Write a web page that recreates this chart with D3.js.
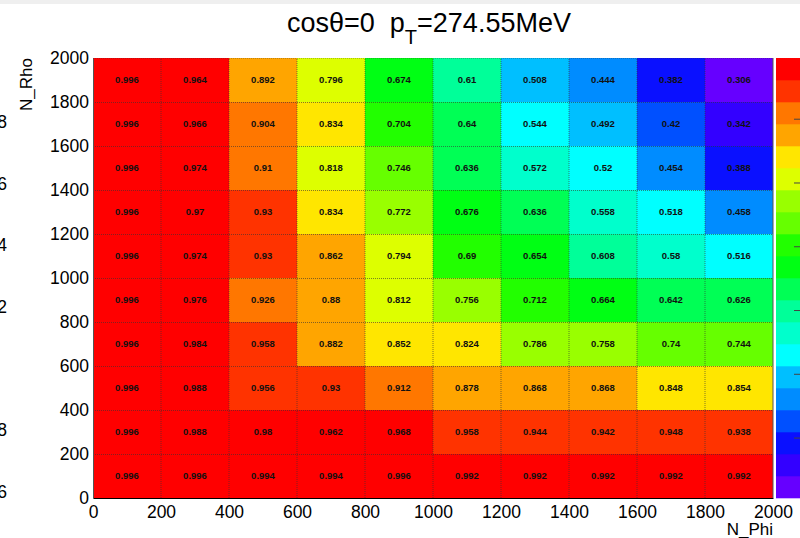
<!DOCTYPE html>
<html>
<head>
<meta charset="utf-8">
<script src="https://cdn.jsdelivr.net/npm/d3@7"></script>
<style>
  body { margin: 0; background: #fff; }
  svg { display: block; font-family: "Liberation Sans", Arial, Helvetica, sans-serif; }
</style>
</head>
<body>
<div id="chart"></div>
<script>
// bin lower edges
const phiBins = [0, 200, 400, 600, 800, 1000, 1200, 1400, 1600, 1800];
const rhoBins = [1800, 1600, 1400, 1200, 1000, 800, 600, 400, 200, 0];
const binWidth = 200;

// efficiency per cell, rows follow rhoBins (top to bottom), columns follow phiBins
const effValues = [
  [0.996, 0.964, 0.892, 0.796, 0.674, 0.61, 0.508, 0.444, 0.382, 0.306],
  [0.996, 0.966, 0.904, 0.834, 0.704, 0.64, 0.544, 0.492, 0.42, 0.342],
  [0.996, 0.974, 0.91, 0.818, 0.746, 0.636, 0.572, 0.52, 0.454, 0.388],
  [0.996, 0.97, 0.93, 0.834, 0.772, 0.676, 0.636, 0.558, 0.518, 0.458],
  [0.996, 0.974, 0.93, 0.862, 0.794, 0.69, 0.654, 0.608, 0.58, 0.516],
  [0.996, 0.976, 0.926, 0.88, 0.812, 0.756, 0.712, 0.664, 0.642, 0.626],
  [0.996, 0.984, 0.958, 0.882, 0.852, 0.824, 0.786, 0.758, 0.74, 0.744],
  [0.996, 0.988, 0.956, 0.93, 0.912, 0.878, 0.868, 0.868, 0.848, 0.854],
  [0.996, 0.988, 0.98, 0.962, 0.968, 0.958, 0.944, 0.942, 0.948, 0.938],
  [0.996, 0.996, 0.994, 0.994, 0.996, 0.992, 0.992, 0.992, 0.992, 0.992]
];

const xTicks = [0, 200, 400, 600, 800, 1000, 1200, 1400, 1600, 1800, 2000];
const yTicks = [0, 200, 400, 600, 800, 1000, 1200, 1400, 1600, 1800, 2000];

// rainbow palette, 20 contour levels, lowest first
const palette = [
  '#6600ff', '#3300ff', '#0a10ff', '#0050ff', '#008cff',
  '#00bfff', '#00ffff', '#00ffcc', '#00ff99', '#00ff55',
  '#00ff14', '#22ff00', '#66ff00', '#99ff00', '#ddff00',
  '#ffe600', '#ffa500', '#ff7700', '#ff3300', '#ff0000'
];

// labels of the neighbouring pad, cut off at the left edge
const sideTicks = [1.8, 1.6, 1.4, 1.2, 0.8, 0.6];

const width = 800;
const height = 538;
const margin = { top: 58, right: 27, bottom: 40, left: 93 };

const svg = d3.select('#chart')
  .append('svg')
  .attr('width', width)
  .attr('height', height);

// light strip at the very top
svg.append('rect')
  .attr('x', 0).attr('y', 0)
  .attr('width', width).attr('height', 4)
  .attr('fill', '#efefef');

const x = d3.scaleLinear().domain([0, 2000]).range([margin.left, width - margin.right]);
const y = d3.scaleLinear().domain([0, 2000]).range([height - margin.bottom, margin.top]);

const flat = effValues.flat();
const zMin = d3.min(flat);
const zMax = d3.max(flat);
const color = d3.scaleQuantize()
  .domain([zMin - 1e-6, zMax])
  .range(palette);

const cells = [];
effValues.forEach((row, i) => {
  row.forEach((v, j) => {
    cells.push({ phi: phiBins[j], rho: rhoBins[i], v: v });
  });
});

// cells
svg.selectAll('.cell')
  .data(cells)
  .enter()
  .append('rect')
  .attr('class', 'cell')
  .attr('x', d => x(d.phi))
  .attr('y', d => y(d.rho + binWidth))
  .attr('width', d => x(d.phi + binWidth) - x(d.phi))
  .attr('height', d => y(d.rho) - y(d.rho + binWidth))
  .attr('fill', d => color(d.v));

// dotted bin boundaries
const edges = xTicks.slice(1, -1);
svg.selectAll('.vgrid')
  .data(edges)
  .enter()
  .append('line')
  .attr('x1', d => x(d)).attr('x2', d => x(d))
  .attr('y1', y(0)).attr('y2', y(2000))
  .attr('stroke', '#333').attr('stroke-opacity', 0.6)
  .attr('stroke-dasharray', '1,1');

svg.selectAll('.hgrid')
  .data(yTicks.slice(1))
  .enter()
  .append('line')
  .attr('x1', x(0)).attr('x2', x(2000))
  .attr('y1', d => y(d) + 0.5).attr('y2', d => y(d) + 0.5)
  .attr('stroke', '#333').attr('stroke-opacity', d => d === 2000 ? 0.3 : 0.6)
  .attr('stroke-dasharray', '1,1');

// cell labels
svg.selectAll('.label')
  .data(cells)
  .enter()
  .append('text')
  .attr('x', d => x(d.phi + binWidth / 2))
  .attr('y', d => y(d.rho + binWidth / 2))
  .attr('dy', '.35em')
  .style('text-anchor', 'middle')
  .style('font-size', '9.5px')
  .style('font-weight', 'bold')
  .style('fill', '#111')
  .text(d => d.v);

// X-axis
const xAxis = svg.append('g')
  .attr('transform', `translate(0,${y(0)})`)
  .call(d3.axisBottom(x).tickValues(xTicks).tickSize(0).tickPadding(8).tickFormat(d3.format('d')));
xAxis.select('.domain').attr('stroke', '#000').attr('stroke-width', 1.2);
xAxis.selectAll('text').style('font-size', '17.5px').style('fill', '#000')
  .style('font-family', '"Liberation Sans", Arial, sans-serif');

// Y-axis
const yAxis = svg.append('g')
  .attr('transform', `translate(${x(0)},0)`)
  .call(d3.axisLeft(y).tickValues(yTicks).tickSize(0).tickPadding(4).tickFormat(d3.format('d')));
yAxis.select('.domain').attr('stroke', '#555');
yAxis.selectAll('text').style('font-size', '17.5px').style('fill', '#000')
  .style('font-family', '"Liberation Sans", Arial, sans-serif');

// right frame edge
svg.append('line')
  .attr('x1', x(2000)).attr('x2', x(2000))
  .attr('y1', y(0)).attr('y2', y(2000))
  .attr('stroke', '#555');

// axis titles
svg.append('text')
  .attr('transform', `translate(32,${y(2000)}) rotate(-90)`)
  .style('text-anchor', 'end')
  .style('font-size', '17px')
  .text('N_Rho');

svg.append('text')
  .attr('x', x(2000))
  .attr('y', 535)
  .style('text-anchor', 'end')
  .style('font-size', '17px')
  .text('N_Phi');

// title
const title = svg.append('text')
  .attr('x', 287)
  .attr('y', 32)
  .style('font-size', '27px');
title.append('tspan').text('cosθ=0\u00a0\u00a0p');
title.append('tspan').attr('dy', 12).style('font-size', '20px').text('T');
title.append('tspan').attr('dy', -12).text('=274.55MeV');

// palette
const z = d3.scaleLinear().domain([zMin, zMax]).range([y(0), y(2000)]);
const step = (zMax - zMin) / palette.length;
svg.selectAll('.pal')
  .data(palette)
  .enter()
  .append('rect')
  .attr('x', 776)
  .attr('y', (c, k) => z(zMin + (k + 1) * step))
  .attr('width', 40)
  .attr('height', (c, k) => z(zMin + k * step) - z(zMin + (k + 1) * step) + 0.3)
  .attr('fill', c => c);

svg.selectAll('.ztick')
  .data(z.ticks(6))
  .enter()
  .append('line')
  .attr('x1', 794).attr('x2', 800)
  .attr('y1', d => z(d)).attr('y2', d => z(d))
  .attr('stroke', '#444');

// cut-off labels of the neighbouring pad
const side = d3.scaleLinear().domain([1.8, 0.6]).range([122, 492]);
svg.selectAll('.side')
  .data(sideTicks)
  .enter()
  .append('text')
  .attr('x', 7)
  .attr('y', d => side(d))
  .attr('dy', '.35em')
  .style('text-anchor', 'end')
  .style('font-size', '17.5px')
  .text(d => d3.format('.1f')(d));
</script>
</body>
</html>
